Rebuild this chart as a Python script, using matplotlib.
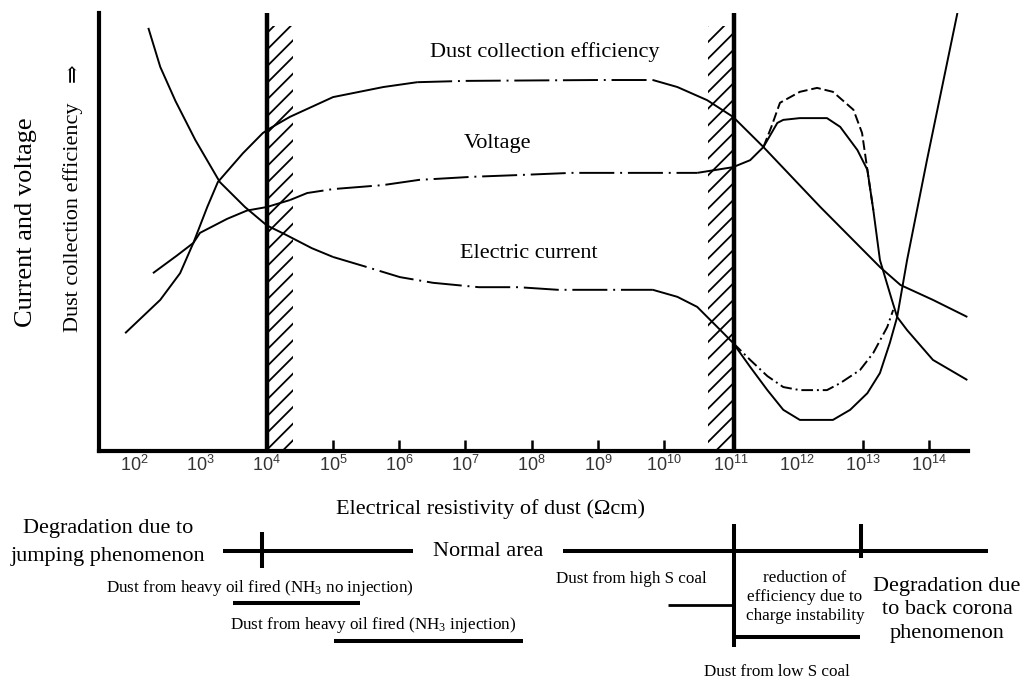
import matplotlib

matplotlib.use("Agg")
import matplotlib.pyplot as plt
from matplotlib import transforms

# x values are decades of resistivity (log10 of ohm-cm), y is a relative 0-100 scale
eff_x = [1.86, 2.39, 2.69, 2.89, 3.10, 3.26, 3.64, 3.94, 4.05, 4.35, 5.0, 5.76, 6.27,
         7.0, 8.0, 9.0, 9.83, 10.2, 10.65, 11.04, 11.5, 12.36, 13.26, 13.57, 14.06, 14.58]
eff_y = [26.9, 34.5, 40.6, 47.5, 55.7, 61.4, 68.0, 72.6, 73.7, 76.3, 80.8, 83.1, 84.2,
         84.5, 84.6, 84.7, 84.7, 83.1, 80.1, 76.3, 69.4, 55.7, 42.0, 37.9, 34.5, 30.6]

volt_x = [2.28, 2.64, 2.89, 2.99, 3.40, 3.70, 4.0, 4.35, 4.61, 5.0, 5.75, 6.3, 7.1, 7.8, 8.6,
          10.5, 11.04, 11.3, 11.5, 11.71, 11.8, 12.05, 12.46, 12.66, 12.92, 13.07, 13.16,
          13.26, 13.44, 13.52, 13.67, 14.06, 14.58]
volt_y = [40.6, 44.6, 47.5, 49.8, 53.0, 54.9, 55.7, 57.3, 58.9, 59.8, 60.7, 61.9, 62.6, 63.0, 63.5,
          63.5, 64.8, 66.4, 69.4, 74.9, 75.6, 76.0, 76.0, 74.0, 68.7, 64.2, 55.0,
          43.6, 34.5, 30.6, 27.6, 20.8, 16.2]
# second (higher) voltage hump in the charge-instability region
volt_hi_x = [11.5, 11.62, 11.75, 12.05, 12.31, 12.55, 12.86, 12.99, 13.07, 13.16]
volt_hi_y = [69.4, 74.0, 79.5, 82.0, 82.9, 82.0, 77.9, 72.6, 64.2, 55.0]

cur_x = [2.21, 2.39, 2.62, 2.92, 3.29, 3.67, 4.0, 4.27, 4.68, 5.0, 5.51, 6.01, 6.51, 7.2, 7.8,
         8.4, 9.83, 10.2, 10.5, 10.85, 11.04, 11.3, 11.56, 11.8, 12.05, 12.55, 12.81,
         13.07, 13.26, 13.41, 13.52, 13.67, 13.97, 14.43]
cur_y = [96.6, 87.7, 79.9, 71.0, 61.4, 55.7, 51.5, 49.5, 46.3, 44.3, 42.0, 39.7, 38.4, 37.4, 37.4,
         36.8, 36.8, 35.2, 32.9, 27.6, 24.7, 19.2, 13.9, 9.4, 7.1, 7.1, 9.4,
         13.2, 17.8, 24.7, 30.6, 43.6, 66.4, 100.0]
# second (shallower) current dip
cur_hi_x = [11.04, 11.3, 11.56, 11.8, 12.05, 12.46, 12.66, 12.96, 13.16, 13.37, 13.46]
cur_hi_y = [24.7, 20.8, 17.1, 14.6, 13.9, 13.9, 15.5, 18.5, 22.4, 28.3, 32.2]

tick_exp = list(range(2, 15))
tick_labels = [rf"$\mathregular{{10^{{{e}}}}}$" for e in tick_exp]
boundaries = [4.0, 11.05]
hatch_spans = [(4.0, 4.40), (10.67, 11.05)]

# resistivity ranges marked under the axis
normal_area = [(3.34, 6.21), (8.47, 14.89)]
heavy_oil_no_nh3 = (3.49, 5.41)
heavy_oil_nh3 = (5.02, 7.87)
high_s_coal = (10.06, 11.06)
low_s_coal = (11.06, 12.96)
region_marks = [3.93, 11.06, 12.98]

W, H = 1033, 682
SERIF = ["Liberation Serif", "DejaVu Serif"]


def fx(px):
    return px / W


def fy(py):
    return 1 - py / H


def split_plot(ax, xs, ys, lo, hi, lw=1.4):
    """Solid outside [lo, hi], long dash-dot inside it."""
    seg = [(x, y) for x, y in zip(xs, ys) if x <= lo]
    mid = [(x, y) for x, y in zip(xs, ys) if lo <= x <= hi]
    end = [(x, y) for x, y in zip(xs, ys) if x >= hi]
    for pts, ls in ((seg, "-"), (mid, (0, (18, 3, 1, 3))), (end, "-")):
        if len(pts) > 1:
            ax.plot(*zip(*pts), color="black", lw=lw, ls=ls, solid_capstyle="butt")


plt.rcParams["hatch.linewidth"] = 1.3
fig = plt.figure(figsize=(W / 100, H / 100), dpi=100)
ax = fig.add_axes([fx(99), fy(451), fx(968) - fx(99), fy(13) - fy(451)])
ax.set_xlim(1.465, 14.59)
ax.set_ylim(0, 100)

for side in ("top", "right"):
    ax.spines[side].set_visible(False)
for side in ("left", "bottom"):
    ax.spines[side].set_linewidth(3)
ax.set_yticks([])

ax.set_xticks(tick_exp, tick_labels)
ax.tick_params(axis="x", direction="in", length=8, width=1.8, pad=3)
for lbl in ax.get_xticklabels():
    lbl.set_fontfamily("Liberation Sans")
    lbl.set_fontsize(13)
    lbl.set_color("#333333")
for tick, e in zip(ax.xaxis.get_major_ticks(), tick_exp):
    if e in (2, 3, 4, 11, 12):
        tick.tick1line.set_visible(False)

# boundary lines and hatched transition zones
for b in boundaries:
    ax.axvline(b, color="black", lw=3.2)
for a, b in hatch_spans:
    ax.axvspan(a, b, ymax=0.97, facecolor="none", edgecolor="black", hatch="//", linewidth=0)

# curves
split_plot(ax, eff_x, eff_y, 6.27, 9.83)
split_plot(ax, volt_x, volt_y, 4.35, 10.5)
split_plot(ax, cur_x, cur_y, 5.0, 9.83)
ax.plot(volt_hi_x, volt_hi_y, color="black", lw=1.4, ls=(0, (5, 2)))
ax.plot(cur_hi_x, cur_hi_y, color="black", lw=1.4, ls=(0, (6, 2, 1, 2)))

ax.text(8.20, 91.1, "Dust collection efficiency", family=SERIF, fontsize=16, ha="center", va="center")
ax.text(7.49, 70.1, "Voltage", family=SERIF, fontsize=16, ha="center", va="center")
ax.text(7.96, 45.2, "Electric current", family=SERIF, fontsize=16, ha="center", va="center")

# axis titles
fig.text(fx(26), fy(222), "Current and voltage", family=SERIF, fontsize=19,
         rotation=90, ha="center", va="center")
fig.text(fx(73), fy(217), "Dust collection efficiency", family=SERIF, fontsize=16,
         rotation=90, ha="center", va="center")
fig.text(fx(75), fy(73), "⇒", family=SERIF, fontsize=16, rotation=90, ha="center", va="center")
fig.text(fx(490), fy(509), "Electrical resistivity of dust (Ωcm)", family=SERIF,
         fontsize=16, ha="center", va="center")

# range bars below the axis
blend = transforms.blended_transform_factory(ax.transData, fig.transFigure)


def hbar(rng, py, lw=2.9):
    ax.plot(rng, [fy(py), fy(py)], transform=blend, clip_on=False, color="black",
            lw=lw, solid_capstyle="butt")


def vbar(x, py0, py1, lw=2.9):
    ax.plot([x, x], [fy(py0), fy(py1)], transform=blend, clip_on=False, color="black",
            lw=lw, solid_capstyle="butt")


for rng in normal_area:
    hbar(rng, 551)
vbar(region_marks[0], 532, 568)
vbar(region_marks[1], 524, 647)
vbar(region_marks[2], 524, 558)
hbar(heavy_oil_no_nh3, 603)
hbar(heavy_oil_nh3, 641)
hbar(high_s_coal, 605, lw=2)
hbar(low_s_coal, 637)

fig.text(fx(108), fy(529), "Degradation due to", family=SERIF, fontsize=16, ha="center", va="center")
fig.text(fx(108), fy(557), "jumping phenomenon", family=SERIF, fontsize=16, ha="center", va="center")
fig.text(fx(488), fy(551), "Normal area", family=SERIF, fontsize=16, ha="center", va="center")
fig.text(fx(260), fy(588), r"Dust from heavy oil fired (NH$\mathregular{_3}$ no injection)",
         family=SERIF, fontsize=12.3, ha="center", va="center")
fig.text(fx(373), fy(625), r"Dust from heavy oil fired (NH$\mathregular{_3}$ injection)",
         family=SERIF, fontsize=12.3, ha="center", va="center")
fig.text(fx(631), fy(579), "Dust from high S coal", family=SERIF, fontsize=12.3,
         ha="center", va="center")
fig.text(fx(805), fy(597), "reduction of\nefficiency due to\ncharge instability", family=SERIF,
         fontsize=12.3, ha="center", va="center", linespacing=1.25)
fig.text(fx(947), fy(610), "Degradation due\nto back corona\nphenomenon", family=SERIF,
         fontsize=16, ha="center", va="center", linespacing=1.3)
fig.text(fx(777), fy(672), "Dust from low S coal", family=SERIF, fontsize=12.3,
         ha="center", va="center")

fig.savefig("out.png", dpi=100)
